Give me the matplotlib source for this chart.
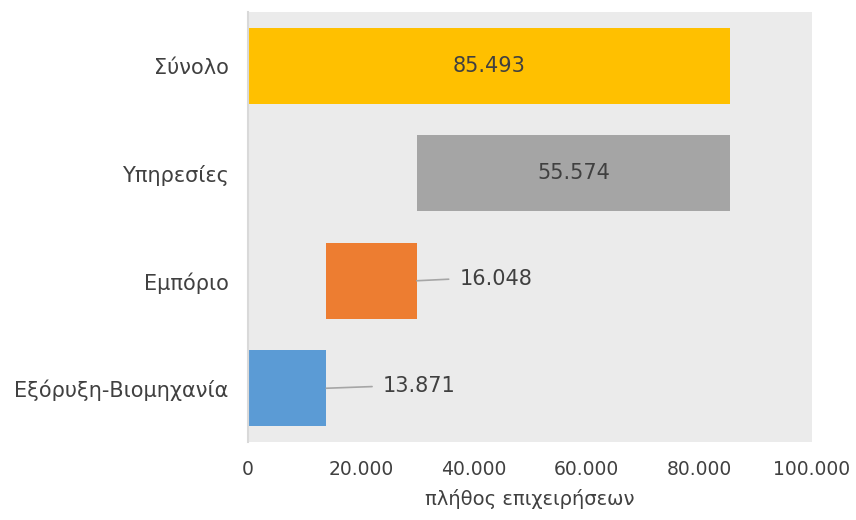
import matplotlib
matplotlib.use("Agg")
import matplotlib.pyplot as plt

categories = ["Εξόρυξη-Βιομηχανία", "Εμπόριο", "Υπηρεσίες", "Σύνολο"]
values = [13871, 16048, 55574, 85493]
is_total = [False, False, False, True]
colors = ["#5B9BD5", "#ED7D31", "#A5A5A5", "#FFC000"]
xticks = [0, 20000, 40000, 60000, 80000, 100000]
xlabel = "πλήθος επιχειρήσεων"

def fmt(v):
    return f"{v:,}".replace(",", ".")

fig = plt.figure(figsize=(8.56, 5.20), dpi=100)
ax = fig.add_axes([248/856, 1-442/520, (812-248)/856, 430/520])
ax.set_facecolor("#EBEBEB")

text_col = "#404040"
starts = []
run = 0
for v, tot in zip(values, is_total):
    if tot:
        starts.append(0)
    else:
        starts.append(run)
        run += v

ys = list(range(len(categories)))
ax.barh(ys, values, left=starts, height=0.71, color=colors, zorder=2)

# labels
outside_offsets = {0: 41, 1: 31}
for i, (y, v, s) in enumerate(zip(ys, values, starts)):
    end = s + v
    if i in outside_offsets:
        ax.annotate(fmt(v), xy=(end, y), xytext=(outside_offsets[i], 1.5),
                    textcoords="offset points", ha="left", va="center",
                    fontsize=15, color=text_col,
                    arrowprops=dict(arrowstyle="-", color="#A6A6A6", lw=1.2,
                                    relpos=(0, 0.5), shrinkA=6, shrinkB=0))
    else:
        ax.text(s + v / 2, y, fmt(v), ha="center", va="center",
                fontsize=15, color=text_col)

ax.set_xlim(0, 100000)
ax.set_ylim(-0.5, 3.5)
ax.set_xticks(xticks)
ax.set_xticklabels([fmt(t) for t in xticks])
ax.set_yticks(ys)
ax.set_yticklabels(categories)
ax.tick_params(axis="x", length=0, labelsize=13.5, labelcolor=text_col, pad=13)
ax.tick_params(axis="y", length=0, labelsize=15, labelcolor=text_col, pad=14)
for side in ["top", "right", "bottom"]:
    ax.spines[side].set_visible(False)
ax.spines["left"].set_color("#D9D9D9")
ax.spines["left"].set_linewidth(1.5)
ax.set_xlabel(xlabel, fontsize=14, color=text_col, labelpad=7)

fig.savefig("out.png", dpi=100)
